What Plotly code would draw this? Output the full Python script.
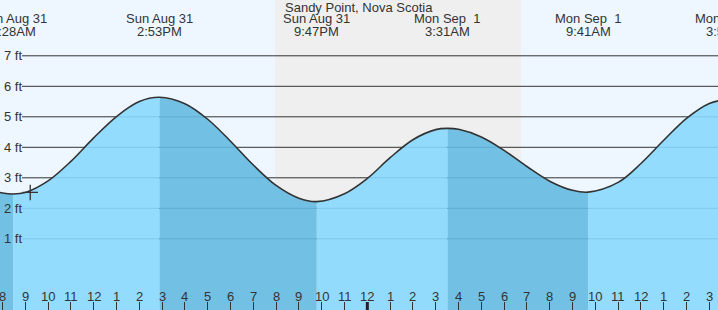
import plotly.graph_objects as go
import pandas as pd

# ---------------- data ----------------
# hourly water level readings (ft)
hour_times = list(pd.date_range("2025-08-31 08:00", periods=33, freq="h"))
hour_heights = [2.50, 2.52, 2.90, 3.54, 4.31, 5.01, 5.50, 5.64, 5.43, 4.92, 4.20,
                3.42, 2.75, 2.33, 2.23, 2.48, 2.98, 3.66, 4.25, 4.58, 4.59, 4.34,
                3.90, 3.37, 2.89, 2.59, 2.55, 2.85, 3.47, 4.23, 4.95, 5.44, 5.57]
edge_time = ["2025-08-31 07:50"]
edge_height = [2.53]

# tide extremes (time, height, type)
ext_times = ["2025-08-31 08:28", "2025-08-31 14:53", "2025-08-31 21:47",
             "2025-09-01 03:31", "2025-09-01 09:41", "2025-09-01 15:51"]
ext_heights = [2.47, 5.64, 2.22, 4.62, 2.53, 5.58]
ext_dates = ["Sun Aug 31", "Sun Aug 31", "Sun Aug 31",
             "Mon Sep\u00a0 1", "Mon Sep\u00a0 1", "Mon Sep\u00a0 1"]
ext_clock = ["8:28AM", "2:53PM", "9:47PM", "3:31AM", "9:41AM", "3:51PM"]

# night period
sunset = "2025-08-31 19:57"
sunrise = "2025-09-01 06:44"
midnight = "2025-09-01 00:00"

# current time marker
now_time = ["2025-08-31 09:13"]
now_height = [2.52]

# axis labels
ft_vals = [1, 2, 3, 4, 5, 6, 7]
ft_text = ["1 ft", "2 ft", "3 ft", "4 ft", "5 ft", "6 ft", "7 ft"]
hour_labels = ["8", "9", "10", "11", "12", "1", "2", "3", "4", "5", "6", "7", "8", "9",
               "10", "11", "12", "1", "2", "3", "4", "5", "6", "7", "8", "9", "10",
               "11", "12", "1", "2", "3"]

title = "Sandy Point, Nova Scotia"

# ---------------- styling ----------------
X_RANGE = ["2025-08-31 07:53:23", "2025-09-01 15:22:50"]
Y_RANGE = [-1.334, 8.83]
BASE = -2.0
DAY_BG = "#eef7ff"
NIGHT_BG = "#efefef"
LIGHT = "rgba(136,216,254,0.9)"
DARK = "rgba(100,186,225,0.9)"
INK = "#333333"
FONT = "Liberation Sans, Arial, sans-serif"

# merge all curve points (hourly readings that sit almost on an extreme are
# represented by the extreme itself, to keep the spline smooth)
ext_ts = [pd.Timestamp(t) for t in ext_times]
pts = [(pd.Timestamp(t), h) for t, h in zip(edge_time, edge_height)]
for t, h in zip(hour_times, hour_heights):
    if min(abs((t - e).total_seconds()) for e in ext_ts) > 20 * 60:
        pts.append((t, h))
pts += [(e, h) for e, h in zip(ext_ts, ext_heights)]
pts.sort(key=lambda p: p[0])
all_x = [p[0] for p in pts]
all_y = [p[1] for p in pts]

fig = go.Figure()

# fill segments between extremes (dark = falling tide)
bounds = sorted(set([all_x[0]] + ext_ts + [all_x[-1]]))
for a, b in zip(bounds[:-1], bounds[1:]):
    seg = [(x, y) for x, y in pts if a <= x <= b]
    if len(seg) < 2:
        continue
    falling = seg[-1][1] < seg[0][1]
    sx = [s[0] for s in seg]
    sy = [s[1] for s in seg]
    fig.add_trace(go.Scatter(x=[sx[0], sx[-1]], y=[BASE, BASE], mode="lines",
                             line=dict(width=0), hoverinfo="skip", showlegend=False))
    fig.add_trace(go.Scatter(x=sx, y=sy, mode="lines", fill="tonexty",
                             fillcolor=DARK if falling else LIGHT,
                             line=dict(width=0, shape="spline"),
                             hoverinfo="skip", showlegend=False))

# outline
fig.add_trace(go.Scatter(x=all_x, y=all_y, mode="lines",
                         line=dict(color=INK, width=1.6, shape="spline"),
                         hoverinfo="skip", showlegend=False))

# current-time marker
fig.add_trace(go.Scatter(x=now_time, y=now_height, mode="markers",
                         marker=dict(symbol="cross-thin", size=11,
                                     line=dict(width=1.3, color=INK)),
                         hoverinfo="skip", showlegend=False))

shapes = [dict(type="rect", xref="x", yref="paper", x0=sunset, x1=sunrise, y0=0, y1=1,
               fillcolor=NIGHT_BG, line=dict(width=0), layer="below")]
for v in ft_vals:
    shapes.append(dict(type="line", xref="paper", yref="y", x0=22 / 718, x1=1, y0=v, y1=v,
                       line=dict(color=INK, width=1), layer="below"))
shapes.append(dict(type="line", xref="x", yref="paper", x0=midnight, x1=midnight,
                   y0=0, y1=8 / 310, line=dict(color="#222", width=3)))

annotations = [dict(text=title, xref="paper", yref="paper", x=0.5, y=1 - 7 / 310,
                    yanchor="middle", showarrow=False,
                    font=dict(family=FONT, size=13, color=INK))]
t0 = pd.Timestamp(X_RANGE[0])
t1 = pd.Timestamp(X_RANGE[1])
for t, d, c in zip(ext_times, ext_dates, ext_clock):
    fx = (pd.Timestamp(t) - t0) / (t1 - t0)
    for txt, ypx in ((d, 19), (c, 31.5)):
        annotations.append(dict(text=txt, xref="paper", yref="paper", x=fx,
                                y=1 - ypx / 310, yanchor="middle", xanchor="center",
                                showarrow=False,
                                font=dict(family=FONT, size=13, color=INK)))
for v, txt in zip(ft_vals, ft_text):
    annotations.append(dict(text=txt, xref="paper", yref="y", x=2 / 718, y=v,
                            xanchor="left", yanchor="middle", showarrow=False,
                            font=dict(family=FONT, size=13, color=INK)))
for t, txt in zip(hour_times[:len(hour_labels)], hour_labels):
    annotations.append(dict(text=txt, xref="x", yref="paper", x=t, y=14 / 310,
                            xanchor="center", yanchor="middle", showarrow=False,
                            font=dict(family=FONT, size=13, color=INK)))

fig.update_layout(
    width=718, height=310, margin=dict(l=0, r=0, t=0, b=0),
    paper_bgcolor=DAY_BG, plot_bgcolor=DAY_BG,
    shapes=shapes, annotations=annotations, showlegend=False,
    xaxis=dict(type="date", range=X_RANGE, showgrid=False, zeroline=False,
               showline=False, ticks="inside", ticklen=8, tickwidth=1,
               tickcolor=INK, tickvals=hour_times, showticklabels=False,
               fixedrange=True),
    yaxis=dict(range=Y_RANGE, showgrid=False, zeroline=False, showline=False,
               showticklabels=False, ticks="", fixedrange=True),
)

fig.write_html("out.html", config={"displayModeBar": False})
